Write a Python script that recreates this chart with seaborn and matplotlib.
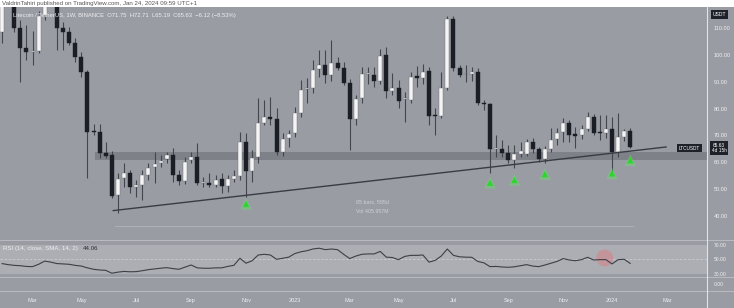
import numpy as np
import pandas as pd
import matplotlib
matplotlib.use("Agg")
import matplotlib.pyplot as plt
import seaborn as sns

# ---------------- data (weekly LTC/USDT) ----------------
start_date = "2022-01-31"
opens = [108.6, 120.0, 128.0, 110.1, 102.7, 101.0, 101.5, 114.8, 124.0, 124.0,
         110.1, 108.6, 104.5, 99.1, 93.5, 71.8, 71.2, 63.3, 62.7, 47.8,
         54.3, 56.1, 50.7, 51.5, 55.3, 58.4, 59.6, 61.1, 62.7, 55.3,
         53.2, 60.8, 61.9, 52.2, 52.4, 51.5, 53.7, 51.2, 53.7, 54.9,
         67.7, 56.9, 61.9, 74.7, 76.7, 76.2, 63.9, 68.9, 70.8, 78.2,
         87.3, 87.5, 94.7, 96.2, 92.5, 97.1, 95.0, 89.6, 76.0, 83.9,
         92.7, 92.5, 90.3, 99.9, 86.5, 87.8, 83.4, 83.2, 92.1, 91.3,
         94.0, 77.6, 77.4, 87.8, 113.3, 95.0, 92.7, 92.9, 93.7, 82.2,
         81.6, 64.9, 65.1, 63.6, 60.8, 63.1, 63.1, 67.7, 64.8, 61.4,
         64.9, 68.5, 71.4, 74.7, 70.5, 70.2, 72.3, 77.0, 71.4, 71.0,
         72.3, 63.9, 69.5, 71.75]
highs = [124.0, 138.0, 131.0, 113.0, 111.0, 108.9, 116.5, 128.0, 134.0, 127.0,
         112.4, 110.5, 106.3, 101.2, 94.5, 74.3, 74.1, 67.4, 64.3, 55.9,
         59.6, 57.1, 53.4, 57.1, 59.6, 63.9, 62.7, 63.9, 65.2, 57.1,
         62.1, 63.9, 67.1, 54.6, 55.9, 55.3, 55.9, 55.3, 57.1, 71.4,
         70.8, 64.6, 83.8, 83.2, 84.4, 80.1, 70.8, 72.0, 80.7, 90.6,
         91.3, 98.1, 101.8, 101.8, 105.5, 99.3, 97.4, 91.0, 85.0, 95.6,
         95.6, 95.6, 102.1, 103.0, 93.1, 90.6, 86.0, 93.7, 96.0, 96.5,
         95.6, 80.1, 93.7, 114.5, 114.5, 96.2, 96.2, 95.6, 95.0, 83.2,
         82.0, 70.0, 68.3, 66.4, 66.4, 67.5, 68.5, 69.0, 65.5, 66.0,
         72.6, 72.6, 76.4, 75.8, 73.2, 73.8, 78.8, 78.0, 77.6, 77.6,
         77.0, 78.2, 72.3, 72.71]
lows = [104.4, 118.5, 108.5, 89.8, 98.1, 96.2, 100.5, 113.0, 119.0, 101.8,
        101.8, 103.7, 97.4, 91.9, 54.0, 70.2, 61.7, 61.6, 46.6, 41.1,
        50.9, 48.5, 47.2, 46.0, 53.4, 52.2, 58.4, 59.6, 52.8, 51.5,
        51.9, 59.6, 51.5, 50.9, 50.9, 50.9, 48.5, 49.0, 52.8, 53.4,
        47.2, 52.8, 59.6, 73.9, 73.9, 62.7, 62.3, 65.8, 69.5, 77.0,
        82.0, 85.7, 91.9, 89.5, 90.1, 94.4, 88.8, 64.6, 73.9, 82.0,
        89.0, 88.2, 89.0, 83.9, 85.0, 80.1, 75.1, 82.0, 88.0, 89.0,
        73.9, 70.2, 76.5, 87.0, 94.0, 91.9, 89.8, 90.1, 81.3, 79.5,
        55.9, 62.0, 62.1, 59.6, 57.8, 62.0, 62.5, 63.5, 60.2, 59.6,
        64.0, 66.4, 67.7, 67.5, 65.2, 68.5, 71.5, 70.2, 68.3, 69.0,
        55.3, 62.1, 68.0, 65.19]
closes = [120.0, 128.0, 110.1, 102.7, 101.0, 101.4, 114.6, 124.0, 126.0, 110.1,
          108.6, 104.5, 99.1, 93.7, 71.4, 71.4, 63.3, 62.4, 47.6, 53.6,
          56.1, 50.7, 51.5, 55.3, 57.8, 59.4, 60.6, 62.7, 55.3, 53.0,
          60.2, 61.9, 52.2, 52.5, 51.5, 53.4, 51.2, 53.7, 54.9, 67.7,
          56.8, 61.5, 74.5, 76.7, 76.2, 63.9, 68.5, 70.4, 78.3, 86.9,
          87.7, 94.4, 96.2, 92.4, 97.1, 95.2, 89.6, 76.0, 83.4, 92.9,
          93.1, 90.1, 99.6, 86.5, 87.8, 82.9, 83.8, 91.9, 91.3, 93.7,
          77.4, 77.2, 87.8, 113.3, 95.0, 92.5, 92.9, 93.7, 82.2, 81.6,
          64.9, 65.2, 63.6, 60.8, 63.1, 64.2, 67.7, 64.8, 61.1, 64.8,
          68.3, 71.0, 74.5, 70.2, 69.8, 72.3, 77.0, 70.8, 71.0, 72.3,
          63.9, 69.3, 71.75, 65.63]
rsi = [44.0, 42.5, 41.5, 41.0, 40.0, 39.7, 43.0, 47.5, 46.0, 44.0,
       43.5, 43.0, 41.5, 40.5, 38.0, 36.0, 35.0, 34.5, 30.5, 32.0,
       33.0, 32.5, 32.7, 34.0, 35.5, 36.5, 37.5, 38.3, 37.0, 36.0,
       39.0, 42.0, 38.0, 37.5, 37.4, 38.0, 38.0, 40.0, 41.5, 51.4,
       44.5, 48.0, 56.0, 57.0, 56.0, 50.0, 51.4, 53.0, 58.0, 60.5,
       62.0, 64.5, 65.5, 63.5, 64.4, 63.5, 57.0, 51.0, 54.5, 57.0,
       57.5, 57.5, 61.0, 53.0, 52.5, 49.5, 54.0, 55.5, 55.5, 56.0,
       46.0, 48.5, 54.5, 64.4, 55.5, 53.5, 53.0, 52.8, 47.0, 45.0,
       39.7, 40.0, 39.2, 38.8, 39.5, 41.0, 42.5, 40.5, 39.7, 42.0,
       44.5, 47.0, 51.0, 49.0, 48.0, 49.5, 52.8, 49.0, 49.5, 49.5,
       43.5, 49.5, 50.0, 44.06]
price_ticks = [40, 50, 60, 70, 80, 90, 100, 110]
rsi_ticks = [30, 50, 70]
support_zone = (60.8, 63.9)
trend_x = [18.2, 108.9]
trend_y = [42.0, 65.7]
arrow_idx = [40, 80, 84, 89, 100, 103]
arrow_price = [44.5, 52.4, 53.4, 55.6, 55.9, 60.8]

# ---------------- styling ----------------
sns.set_theme(style="white")
plt.rcParams['font.family'] = ['Liberation Sans', 'DejaVu Sans']
BG = '#9a9ca4'
SEP = '#b9bbc1'
TXT = '#eeeff2'
BULL = '#f4f4f4'
BEAR = '#1c1e25'
WICK = '#44464e'

W, H = 734, 308
fig = plt.figure(figsize=(W / 100, H / 100), dpi=100, facecolor=BG)

def fy(px):  # pixel from top -> figure fraction
    return 1 - px / H

x_right = 707 / W
ax = fig.add_axes([0, fy(240), x_right, (240 - 7) / H])
ax_r = fig.add_axes([0, fy(277), x_right, (277 - 240) / H], sharex=ax)
ax_s = fig.add_axes([0, fy(291), x_right, (291 - 277) / H], sharex=ax)

df = pd.DataFrame({"date": pd.date_range(start_date, periods=len(opens), freq="W-MON"),
                   "open": opens, "high": highs, "low": lows, "close": closes, "rsi": rsi})
df["idx"] = np.arange(len(df))

for a in (ax, ax_r, ax_s):
    a.set_facecolor(BG)
    for s in a.spines.values():
        s.set_visible(False)

# support zone
ax.axhspan(support_zone[0], support_zone[1], xmin=95 / 707, xmax=1, color='#7f8189', lw=0, zorder=1)

# candles
up = df["close"] >= df["open"]
ax.vlines(df["idx"], df["low"], df["high"], color=WICK, lw=0.8, zorder=2)
body_bottom = np.minimum(df["open"], df["close"])
body_h = np.maximum(np.abs(df["close"] - df["open"]), 0.35)
ax.bar(df["idx"], body_h, bottom=body_bottom, width=0.66,
       color=np.where(up, BULL, BEAR), edgecolor=np.where(up, '#6a6c74', BEAR),
       linewidth=0.3, zorder=3)

# ascending trend line
sns.lineplot(x=trend_x, y=trend_y, ax=ax, color='#3a3c44', lw=1.0, zorder=4)

# green arrows
sns.scatterplot(x=arrow_idx, y=arrow_price, ax=ax, marker='^', s=70, color='#5ef05e',
                alpha=0.35, edgecolor='none', zorder=5)
sns.scatterplot(x=arrow_idx, y=arrow_price, ax=ax, marker='^', s=22, color='#2fd52f',
                edgecolor='none', zorder=6)

# measurement line + texts
ax.plot([18.5, 103.5], [36.1, 36.1], color='#b3b5bb', lw=0.6, zorder=1)
ax.text(60.7, 45.2, "85 bars, 595d", color='#cfd1d6', fontsize=3.8, ha='center', va='center')
ax.text(60.7, 41.5, "Vol 405.957M", color='#cfd1d6', fontsize=3.8, ha='center', va='center')

ax.set_ylim(31.06, 117.81)
ax.set_xlim(-0.33, 115.57)
ax.yaxis.tick_right()
ax.set_yticks(price_ticks)
ax.set_yticklabels([f"{v:.2f}" for v in price_ticks])
ax.tick_params(axis='y', length=0, labelsize=4, colors=TXT, pad=5)
ax.tick_params(axis='x', length=0, labelbottom=False)
ax.grid(False)

# ---------------- RSI pane ----------------
ax_r.axhspan(30, 70, color='#acaeb4', lw=0, zorder=0)
ax_r.axhline(50, color='#c9cbd0', lw=0.6, ls=(0, (3, 2)), zorder=1)
sns.lineplot(data=df, x="idx", y="rsi", ax=ax_r, color='#3d3f47', lw=0.8, zorder=3)
ax_r.scatter([98.8], [51.8], s=150, color='#d98088', alpha=0.55, edgecolor='none', zorder=2)
ax_r.set_ylim(25.2, 77.0)
ax_r.yaxis.tick_right()
ax_r.set_yticks(rsi_ticks)
ax_r.set_yticklabels([f"{v:.2f}" for v in rsi_ticks])
ax_r.tick_params(axis='y', length=0, labelsize=3.6, colors=TXT, pad=5)
ax_r.tick_params(axis='x', length=0, labelbottom=False)
ax_r.set_xlabel("")
ax_r.set_ylabel("")
ax_r.grid(False)
ax_r.text(3 / 707, 0.76, "RSI (14, close, SMA, 14, 2)", transform=ax_r.transAxes,
          fontsize=4.4, color=TXT, va='center')
ax_r.text(83 / 707, 0.76, "44.06", transform=ax_r.transAxes, fontsize=4.4,
          color='#2a2c33', va='center')

# ---------------- bottom small pane + time axis ----------------
ax_s.set_ylim(0, 1)
ax_s.yaxis.tick_right()
ax_s.set_yticks([0.5])
ax_s.set_yticklabels(["0.00"])
ax_s.tick_params(axis='y', length=0, labelsize=3.6, colors=TXT, pad=5)
ax_s.grid(False)

all_dates = pd.date_range(start_date, periods=116, freq="W-MON")
tick_pos, tick_lab = [], []
seen = set()
for i, d in enumerate(all_dates):
    key = (d.year, d.month)
    if key in seen:
        continue
    seen.add(key)
    if i == 0:
        continue
    if d.month % 2 == 1:
        tick_pos.append(i)
        tick_lab.append(str(d.year) if d.month == 1 else d.strftime("%b"))
ax_s.set_xticks(tick_pos)
ax_s.set_xticklabels(tick_lab)
ax_s.tick_params(axis='x', length=0, labelsize=4, colors=TXT, pad=5)
ax_s.set_xlim(-0.33, 115.57)

# separators
for ypx in (240, 277, 291):
    fig.add_artist(plt.Line2D([0, 1], [fy(ypx), fy(ypx)], color=SEP, lw=0.7))
fig.add_artist(plt.Line2D([x_right, x_right], [0, fy(7)], color='#e2e3e6', lw=0.8))

# header strip
fig.add_artist(plt.Rectangle((0, fy(6.5)), 1, 6.5 / H, color='white', lw=0))
fig.text(2 / W, fy(3.2), "ValdrinTahiri published on TradingView.com, Jan 24, 2024 09:59 UTC+1",
         fontsize=4.4, color='#555555', va='center')
fig.text(13 / W, fy(15), "Litecoin / TetherUS, 1W, BINANCE  O71.75  H72.71  L65.19  C65.63  \u22126.12 (\u22128.53%)",
         fontsize=4.2, color=TXT, va='center')

# price labels on the scale
box = dict(boxstyle='square,pad=0.35', fc='#1f2128', ec='none')
fig.text(719 / W, fy(14.5), "USDT", fontsize=3.6, color='white', ha='center', va='center', bbox=box)
fig.text(689.5 / W, fy(148), "LTCUSDT", fontsize=3.4, color='white', ha='center', va='center', bbox=box)
fig.text(719 / W, fy(148), "65.63\n4d 15h", fontsize=3.4, color='white', ha='center', va='center',
         linespacing=1.0, bbox=box)

fig.savefig("out.png", dpi=100, facecolor=BG)
